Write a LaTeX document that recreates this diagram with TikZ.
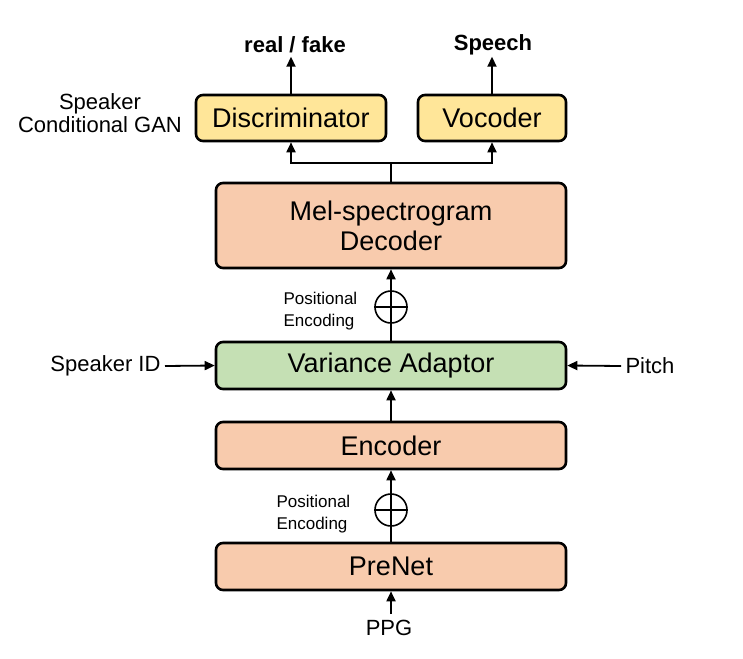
\documentclass[tikz,border=0pt]{standalone}
\usepackage{fontspec}
\setmainfont{Liberation Sans}
\usetikzlibrary{arrows.meta}

\definecolor{jaune}{HTML}{FFE699}
\definecolor{saumon}{HTML}{F8CBAD}
\definecolor{vert}{HTML}{C5E0B4}

\begin{document}
\begin{tikzpicture}[x=1pt,y=-1pt,
  bloc/.style={draw, line width=2.6pt, rounded corners=7pt, font=\fontsize{27}{31}\selectfont, inner sep=0pt},
  fl/.style={line width=1.8pt, -{Triangle[length=10pt,width=9pt]}},
  somme/.style={draw, circle, line width=1.6pt, minimum size=32pt, inner sep=0pt},
  pe/.style={align=left, anchor=west, font=\fontsize{17}{22}\selectfont},
  lab/.style={font=\fontsize{22}{27}\selectfont}]
  \useasboundingbox (0,0) rectangle (743,658);

     % Blocs
  \node[bloc, fill=jaune, minimum width=190pt, minimum height=46pt] (disc) at (291,118) {Discriminator};
  \node[bloc, fill=jaune, minimum width=148pt, minimum height=46pt] (voc) at (492,118) {Vocoder};
  \node[bloc, fill=saumon, minimum width=350pt, minimum height=85pt, align=center] (dec) at (391,225.5) {Mel-spectrogram\\[-1pt]Decoder};
  \node[bloc, fill=vert, minimum width=350pt, minimum height=47pt] (var) at (391,365.5) {Variance Adaptor};
  \node[bloc, fill=saumon, minimum width=350pt, minimum height=47pt] (enc) at (391,445.5) {Encoder};
  \node[bloc, fill=saumon, minimum width=350pt, minimum height=47pt] (pre) at (391,566.5) {PreNet};

     % Sommes
  \node[somme] (s1) at (391,307) {};
  \node[somme] (s2) at (391,510) {};
  \draw[line width=1.6pt] (s1.west)--(s1.east);
  \draw[line width=1.6pt] (s2.west)--(s2.east);

     % Textes
  \node[font=\bfseries\fontsize{22}{26}\selectfont] (rf) at (295,45) {real / fake};
  \node[font=\bfseries\fontsize{22}{26}\selectfont] (sp) at (493,45) {Speech};
  \node[lab, align=center] (gan) at (100,113) {Speaker\\[-4pt]Conditional GAN};
  \node[pe] (pe1) at (280,311) {Positional\\Encoding};
  \node[pe] (pe2) at (273,514) {Positional\\Encoding};
  \node[lab, anchor=east] (spk) at (164,366) {Speaker ID};
  \node[lab, anchor=west] (pit) at (622,366) {Pitch};
  \node[lab] (ppg) at (389,628) {PPG};
  \coordinate (c) at (391,163);
  \coordinate (spkr) at (165,366);
  \coordinate (pitl) at (621,366);
  \coordinate (ppgt) at (391,614);

     % Liaisons
  \draw[fl] (pre.north) -- (enc.south);
  \draw[fl] (enc.north) -- (var.south);
  \draw[fl] (var.north) -- (dec.south);
  \draw[line width=1.8pt] (dec.north) -- (c);
  \draw[fl] (c) -| (disc.south);
  \draw[fl] (c) -| (voc.south);
  \draw[fl] (disc.north) -- ++(0,-37);
  \draw[fl] (voc.north) -- ++(0,-37);
  \draw[fl] (spkr) -- (var.west);
  \draw[fl] (pitl) -- (var.east);
  \draw[fl] (ppgt) -- (pre.south);

\end{tikzpicture}
\end{document}
